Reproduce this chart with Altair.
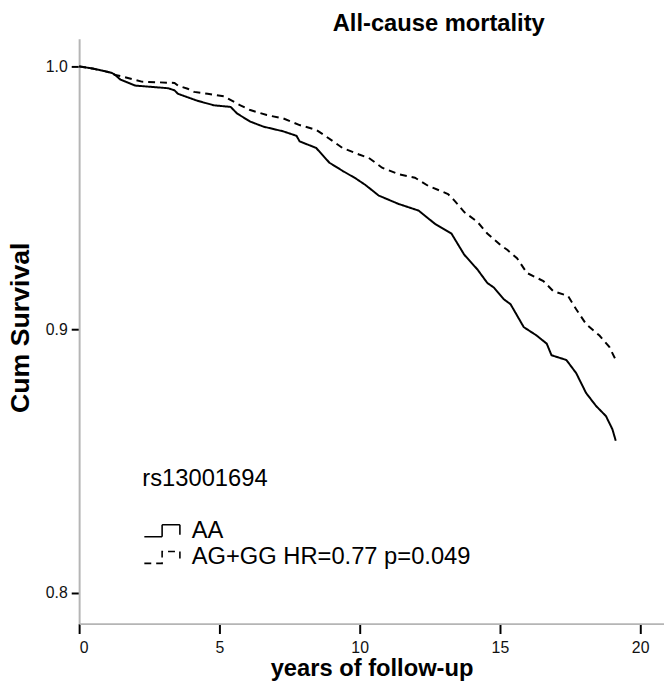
import altair as alt
import pandas as pd

# Kaplan-Meier curves (years, cumulative survival)
aa_time = [0, 0.47, 0.82, 1.17, 1.29, 1.47, 2.0, 3.17, 3.4, 3.52, 4.17, 4.46, 4.81, 5.4,
           5.63, 6.1, 6.57, 7.28, 7.75, 7.86, 8.45, 8.92, 9.39, 9.86, 10.21, 10.68, 11.39,
           12.1, 12.68, 13.27, 13.73, 14.2, 14.55, 14.79, 15.14, 15.38, 15.85, 16.31, 16.67,
           16.84, 17.37, 17.72, 18.07, 18.43, 18.78, 19.01, 19.13]
aa_surv = [1.0, 0.9992, 0.9984, 0.9975, 0.9967, 0.995, 0.9927, 0.9917, 0.9909, 0.9896, 0.9871,
           0.9862, 0.9852, 0.9846, 0.9821, 0.979, 0.9771, 0.9753, 0.9736, 0.9715, 0.969, 0.9634,
           0.9603, 0.9574, 0.9549, 0.9509, 0.9477, 0.9452, 0.9402, 0.9365, 0.9284, 0.9228,
           0.9177, 0.9159, 0.9115, 0.9096, 0.9009, 0.8977, 0.8946, 0.8902, 0.8884, 0.8834,
           0.8759, 0.8709, 0.8671, 0.8621, 0.8577]

ag_time = [0, 0.47, 0.82, 1.17, 1.29, 1.53, 2.23, 3.4, 3.52, 3.87, 4.1, 4.58, 5.16, 5.75, 6.1,
           6.69, 7.28, 7.86, 8.45, 8.8, 9.39, 9.98, 10.33, 10.8, 11.39, 11.97, 12.44, 13.15,
           13.38, 13.73, 14.2, 14.55, 15.02, 15.26, 15.61, 15.96, 16.55, 16.9, 17.43, 17.72,
           18.07, 18.55, 18.9, 19.13]
ag_surv = [1.0, 0.9992, 0.9984, 0.9975, 0.9967, 0.9962, 0.9942, 0.9937, 0.9927, 0.9915, 0.9903,
           0.9896, 0.9886, 0.9852, 0.9834, 0.9815, 0.9802, 0.9777, 0.9759, 0.9734, 0.969,
           0.9665, 0.9652, 0.9615, 0.959, 0.9577, 0.9546, 0.9515, 0.949, 0.9446, 0.9409,
           0.9365, 0.9321, 0.9303, 0.9271, 0.9215, 0.9184, 0.9146, 0.9127, 0.9077, 0.9021,
           0.8977, 0.8934, 0.8884]

groups = ["AA", "AG+GG HR=0.77 p=0.049"]
x_ticks = [0, 5, 10, 15, 20]
y_ticks = [0.8, 0.9, 1.0]

df = pd.DataFrame({
    "time": aa_time + ag_time,
    "surv": aa_surv + ag_surv,
    "group": [groups[0]] * len(aa_time) + [groups[1]] * len(ag_time),
})

FONT = "Liberation Sans"
step_path = "M-1,0.6L0.8,0.6L0.8,-0.6L2.6,-0.6L2.6,0.4"

chart = alt.Chart(df).mark_line(
    interpolate="linear", color="black", strokeWidth=2
).encode(
    x=alt.X("time:Q",
            scale=alt.Scale(domain=[0, 20.85], nice=False, zero=False),
            axis=alt.Axis(values=x_ticks, title="years of follow-up", tickSize=10,
                          labelPadding=6, titleY=53, titleBaseline="alphabetic")),
    y=alt.Y("surv:Q",
            scale=alt.Scale(domain=[0.7882, 1.0105], nice=False, zero=False),
            axis=alt.Axis(values=y_ticks, format=".1f", title="Cum Survival", tickSize=8,
                          labelPadding=4, titleX=-51, titleY=292, titleAngle=270,
                          titleFontSize=27,
                          titleBaseline="alphabetic", titleAlign="center")),
    strokeDash=alt.StrokeDash(
        "group:N",
        scale=alt.Scale(domain=groups, range=[[1, 0], [7, 5]]),
        legend=alt.Legend(
            orient="none", legendX=64, legendY=434, title="rs13001694",
            titleFontSize=24, titleFontWeight="normal", titleFont=FONT, titleColor="black",
            titlePadding=28, labelFontSize=24, labelFont=FONT, labelColor="black",
            labelLimit=600, labelOffset=26, symbolType=step_path, symbolSize=400,
            symbolStrokeWidth=1.6, symbolStrokeColor="black", rowPadding=3, padding=0,
        ),
    ),
).properties(
    width=592,
    height=592,
    title=alt.TitleParams(text="All-cause mortality", fontSize=24, fontWeight="bold",
                          font=FONT, anchor="middle", dx=68, dy=20, offset=4,
                          baseline="alphabetic", color="black"),
    padding={"left": 72, "top": 27, "right": 0, "bottom": 58},
    autosize=alt.AutoSizeParams(type="none"),
).configure_axis(
    grid=False, domainColor="#b5b5b5", domainWidth=2, tickColor="black", tickWidth=2,
    labelFont=FONT, labelFontSize=16, labelColor="#111111",
    titleFont=FONT, titleFontSize=24, titleFontWeight="bold", titleColor="black",
).configure_view(stroke=None)

chart.save("out.html", embed_options={"renderer": "svg", "actions": False})
